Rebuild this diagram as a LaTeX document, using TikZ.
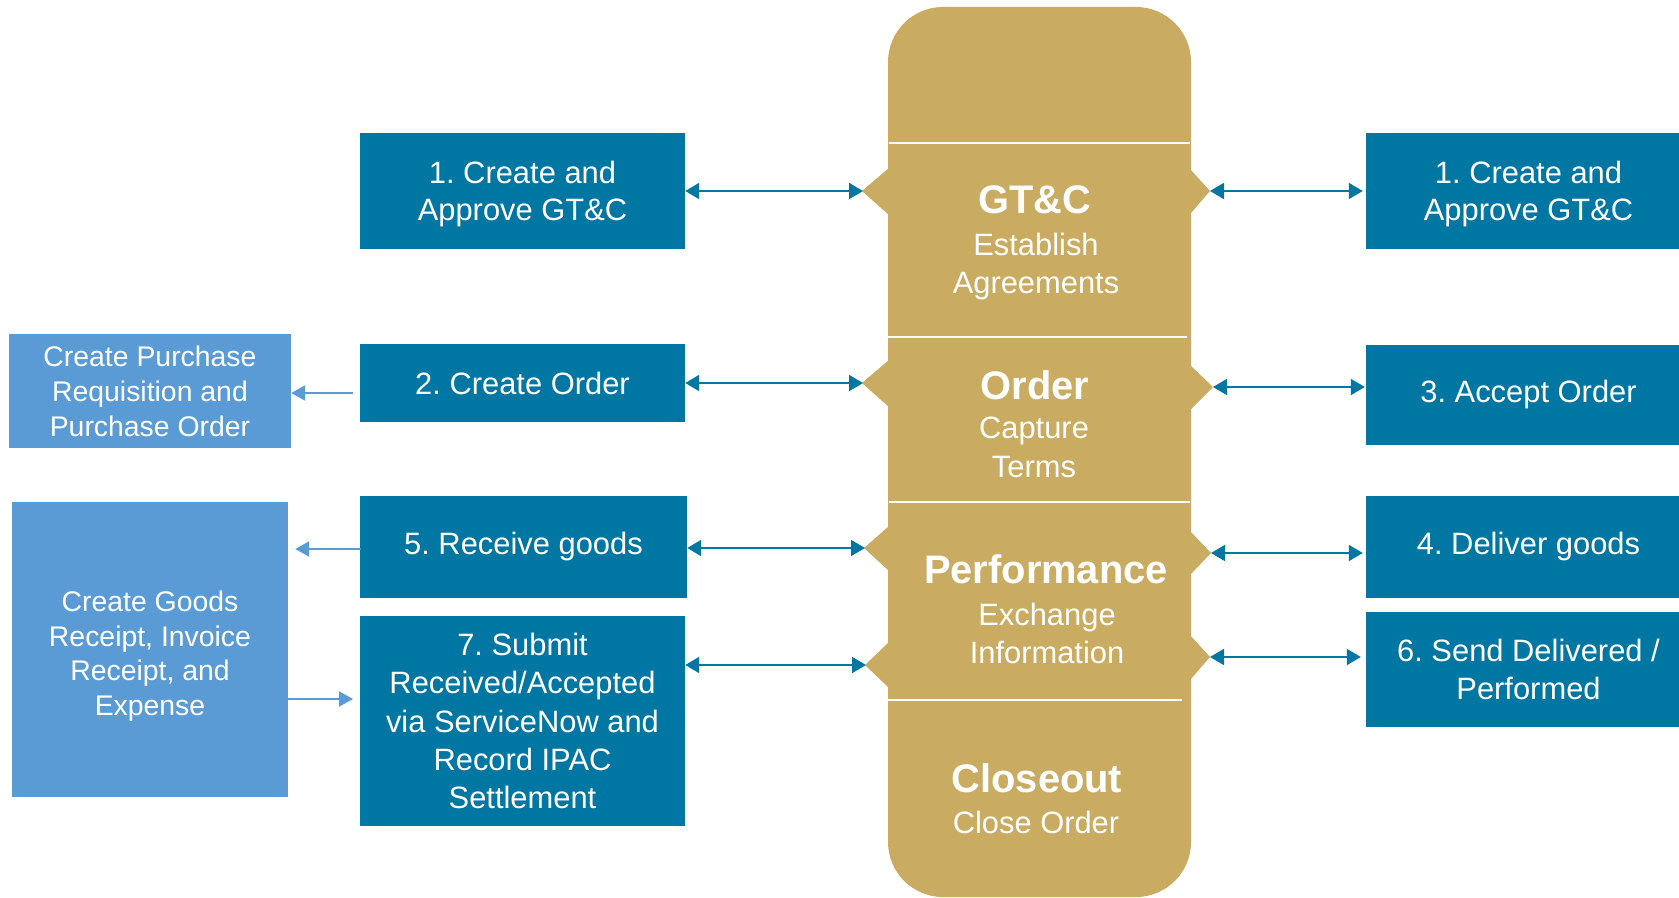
\documentclass[tikz,border=0pt]{standalone}
\usepackage{fontspec}
\setmainfont{Liberation Sans}
\usetikzlibrary{arrows.meta}
\definecolor{dblue}{RGB}{0,118,163}
\definecolor{lblue}{RGB}{91,155,213}
\definecolor{gold}{RGB}{201,171,98}
\frenchspacing
\begin{document}
\begin{tikzpicture}[x=1bp,y=-1bp,
 dbox/.style={fill=dblue,text=white,inner sep=0pt,align=center,minimum width=325bp,font=\fontsize{31}{37.5}\selectfont},
 lbox/.style={fill=lblue,text=white,inner sep=0pt,align=center,font=\fontsize{28.5}{35}\selectfont},
 dlink/.style={draw=dblue,line width=1.8bp,{Triangle[length=14bp,width=16bp]}-{Triangle[length=14bp,width=16bp]}},
 llink/.style={draw=lblue,line width=2bp,-{Triangle[length=14bp,width=15bp]}},
 ttl/.style={text=white,inner sep=0pt,font=\bfseries\fontsize{40}{44}\selectfont,anchor=base},
 subt/.style={text=white,inner sep=0pt,font=\fontsize{31}{38}\selectfont,anchor=base},
 divider/.style={draw=white,line width=1.5bp},
 bump/.style={fill=gold}]
\useasboundingbox (0,0) rectangle (1679,897);
\clip (0,0) rectangle (1679,897);
\fill[white] (0,0) rectangle (1679,897);

% central column
\node[fill=gold,rounded corners=55bp,minimum width=303bp,minimum height=890bp,inner sep=0pt] (col) at (1039.5,452) {};
% bumps (left)
\fill[bump] (889,168) -- (862,191) -- (889,215) -- cycle;
\fill[bump] (889,360) -- (862,383) -- (889,407) -- cycle;
\fill[bump] (889,526) -- (864,548) -- (889,571) -- cycle;
\fill[bump] (889,642) -- (865,665) -- (889,688) -- cycle;
% bumps (right)
\fill[bump] (1190,169) -- (1210,191) -- (1190,214) -- cycle;
\fill[bump] (1190,365) -- (1213,387) -- (1190,410) -- cycle;
\fill[bump] (1190,531) -- (1211,553) -- (1190,575) -- cycle;
\fill[bump] (1190,635) -- (1210,657) -- (1190,680) -- cycle;

\coordinate (L1) at (863,191);
\coordinate (L2) at (863,383);
\coordinate (L5) at (865,548);
\coordinate (L7) at (866,665);
\coordinate (R1) at (1210,191);
\coordinate (R3) at (1213,387);
\coordinate (R4) at (1211,553);
\coordinate (R6) at (1210,657);

% dividers
\draw[divider] (889,143) -- (1190,143);
\draw[divider] (888,337) -- (1187,337);
\draw[divider] (889,502) -- (1190,502);
\draw[divider] (887,700) -- (1182,700);

% column texts
\node[ttl] (t1) at (1035,213) {GT\&C};
\node[subt] (s1a) at (1036,255) {Establish};
\node[subt] (s1b) at (1036,293) {Agreements};
\node[ttl] (t2) at (1035,399) {Order};
\node[subt] (s2a) at (1034,438) {Capture};
\node[subt] (s2b) at (1034,477) {Terms};
\node[ttl] (t3) at (1046,583) {Performance};
\node[subt] (s3a) at (1047,625) {Exchange};
\node[subt] (s3b) at (1047,663) {Information};
\node[ttl] (t4) at (1037,792) {Closeout};
\node[subt] (s4a) at (1036,833) {Close Order};

% left dark boxes
\node[dbox,minimum height=116bp] (b1) at (522.5,191) {\rule{0pt}{29bp}1. Create and\\Approve GT\&C};
\node[dbox,minimum height=78bp] (b2) at (522.5,383) {2. Create Order};
\node[dbox,minimum height=102bp,minimum width=327bp] (b5) at (523.5,547) {5. Receive goods};
\node[dbox,minimum height=210bp,font=\fontsize{31}{38.5}\selectfont] (b7) at (522.5,721) {7. Submit\\Received/Accepted\\via ServiceNow and\\Record IPAC\\Settlement};

% right dark boxes
\node[dbox,minimum height=116bp] (r1) at (1528.5,191) {\rule{0pt}{29bp}1. Create and\\Approve GT\&C};
\node[dbox,minimum height=100bp] (r3) at (1528.5,395) {3. Accept Order};
\node[dbox,minimum height=102bp] (r4) at (1528.5,547) {4. Deliver goods};
\node[dbox,minimum height=115bp] (r6) at (1528.5,669.5) {6. Send Delivered /\\Performed};

% light boxes
\node[lbox,minimum width=282bp,minimum height=114bp] (p1) at (150,391) {Create Purchase\\Requisition and\\Purchase Order};
\node[lbox,minimum width=276bp,minimum height=295bp] (p2) at (150,649.5) {\rule{0pt}{34bp}Create Goods\\Receipt, Invoice\\Receipt, and\\Expense};

% dark connectors
\draw[dlink] (b1.east |- L1) -- (L1);
\draw[dlink] (b2.east |- L2) -- (L2);
\draw[dlink] (b5.east |- L5) -- (L5);
\draw[dlink] (b7.east |- L7) -- (L7);
\draw[dlink,shorten >=3bp] (R1) -- (R1 -| r1.west);
\draw[dlink,shorten >=1bp] (R3) -- (R3 -| r3.west);
\draw[dlink,shorten >=3bp] (R4) -- (R4 -| r4.west);
\draw[dlink,shorten >=5bp] (R6) -- (R6 -| r6.west);

% light connectors
\coordinate (A2) at (353,393);
\draw[llink] (A2) -- (A2 -| p1.east);
\coordinate (A5) at (361,549);
\draw[llink,shorten >=7bp] (A5) -- (A5 -| p2.east);
\coordinate (A7) at (353,699);
\draw[llink] (A7 -| p2.east) -- (A7);
\end{tikzpicture}
\end{document}
